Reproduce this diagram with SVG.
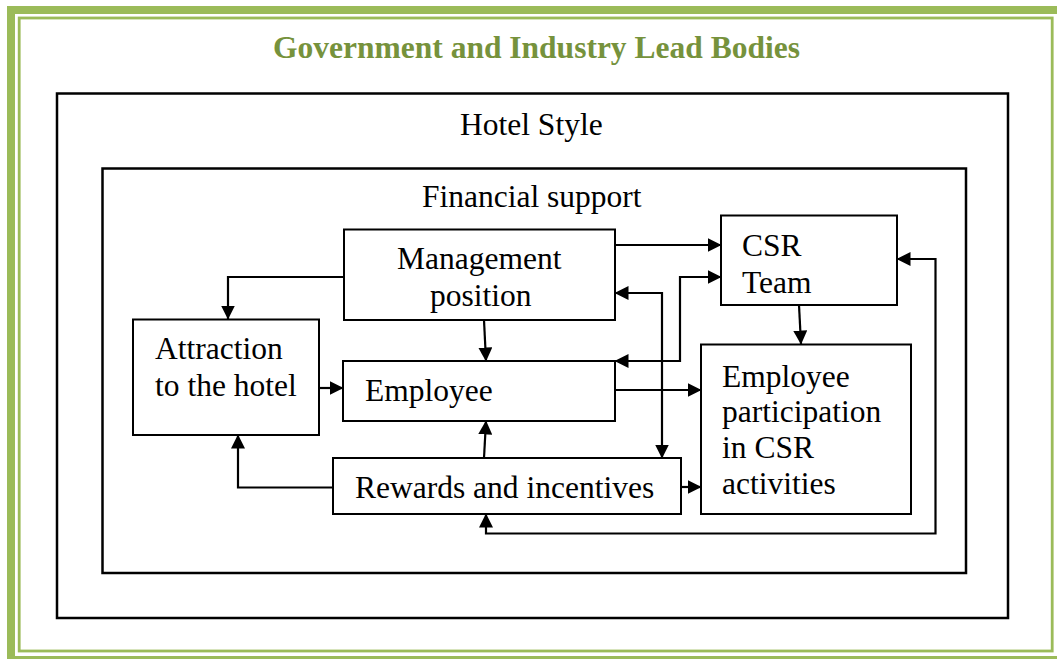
<svg xmlns="http://www.w3.org/2000/svg" width="1057" height="659" viewBox="0 0 1057 659">
<style>
.t{font-family:"Liberation Serif","Times New Roman",serif;font-size:31.5px;fill:#000}
.ttl{font-family:"Liberation Serif","Times New Roman",serif;font-size:31.5px;font-weight:bold;fill:#76923C}
.box{fill:#fff;stroke:#000;stroke-width:2}
.frame{fill:none;stroke:#000;stroke-width:2.5}
.c{fill:none;stroke:#000;stroke-width:2.2}
.a{marker-end:url(#ah)}
.b{marker-start:url(#ah);marker-end:url(#ah)}
</style>
<defs>
<marker id="ah" markerUnits="userSpaceOnUse" markerWidth="14" markerHeight="14" refX="13.5" refY="7" orient="auto-start-reverse">
<path d="M0,0 L14,7 L0,14 z" fill="#000"/>
</marker>
</defs>
<rect width="1057" height="659" fill="#fff"/>
<g id="border">
<rect x="11" y="10" width="1050" height="650" fill="none" stroke="#9BBB59" stroke-width="8"/>
<rect x="19.2" y="18" width="1033" height="633" fill="none" stroke="#9BBB59" stroke-width="2.8"/>
</g>
<g id="title"><text class="ttl" x="536.5" y="58" text-anchor="middle">Government and Industry Lead Bodies</text></g>
<g id="hotel-style">
<rect class="frame" x="57" y="93.5" width="951" height="524.5"/>
<text class="t" x="460" y="135">Hotel Style</text>
</g>
<g id="financial-support">
<rect class="frame" x="102.5" y="168.5" width="863.5" height="404.5"/>
<text class="t" x="422" y="207">Financial support</text>
</g>
<g id="connectors">
<path class="c a" d="M344,277 H228 V319"/>
<path class="c a" d="M484,320 L486,361"/>
<path class="c a" d="M319,388 H343"/>
<path class="c a" d="M333,487.5 H238 V435"/>
<path class="c a" d="M484,458 L486,421"/>
<path class="c a" d="M615,245 H721"/>
<path class="c b" d="M615,361 H680 V277 H721"/>
<path class="c b" d="M615,293 H662 V458"/>
<path class="c a" d="M615,390 H701"/>
<path class="c a" d="M681,487 H701"/>
<path class="c a" d="M799,305 L801,344"/>
<path class="c b" d="M897,259 H935.5 V533.5 H486 V514"/>
</g>
<g id="management-position">
<rect class="box" x="344" y="229.5" width="271" height="90.5"/>
<text class="t" x="397" y="269">Management</text>
<text class="t" x="430" y="306">position</text>
</g>
<g id="csr-team">
<rect class="box" x="721" y="215.5" width="176" height="89.5"/>
<text class="t" x="742" y="256">CSR</text>
<text class="t" x="742" y="293">Team</text>
</g>
<g id="attraction">
<rect class="box" x="133" y="319.5" width="186" height="115.5"/>
<text class="t" x="155" y="359">Attraction</text>
<text class="t" x="155" y="396">to the hotel</text>
</g>
<g id="employee">
<rect class="box" x="343" y="361" width="272" height="60"/>
<text class="t" x="365" y="401">Employee</text>
</g>
<g id="employee-participation">
<rect class="box" x="701" y="344.5" width="210" height="169.5"/>
<text class="t" x="722" y="387">Employee</text>
<text class="t" x="722" y="422">participation</text>
<text class="t" x="722" y="458">in CSR</text>
<text class="t" x="722" y="494">activities</text>
</g>
<g id="rewards">
<rect class="box" x="333" y="458" width="348" height="56"/>
<text class="t" x="355" y="498">Rewards and incentives</text>
</g>
</svg>
